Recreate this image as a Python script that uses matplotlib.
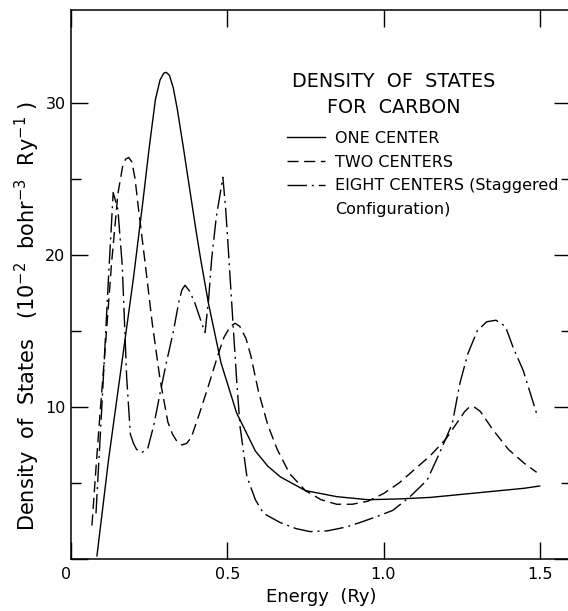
import matplotlib
matplotlib.use("Agg")
import matplotlib.pyplot as plt
from matplotlib.lines import Line2D

plt.rcParams['font.family'] = ['DejaVu Sans']
plt.rcParams['mathtext.fontset'] = 'dejavusans'

# ONE CENTER (solid)
one_x = [0.083, 0.12, 0.16, 0.20, 0.23, 0.25, 0.27, 0.285, 0.297, 0.305, 0.315, 0.327,
         0.34, 0.36, 0.38, 0.40, 0.415, 0.44, 0.48, 0.53, 0.59, 0.63, 0.67, 0.75, 0.85,
         0.95, 1.05, 1.15, 1.25, 1.35, 1.45, 1.50]
one_y = [0.2, 6.5, 12.5, 18.5, 23.5, 27.0, 30.2, 31.5, 31.95, 32.0, 31.8, 31.0,
         29.6, 27.0, 24.3, 21.6, 19.7, 16.8, 12.9, 9.6, 7.1, 6.1, 5.4, 4.5, 4.1,
         3.9, 3.95, 4.05, 4.25, 4.45, 4.65, 4.8]

# TWO CENTERS (dashed)
two_x = [0.067, 0.08, 0.093, 0.11, 0.13, 0.15, 0.165, 0.175, 0.185, 0.195, 0.205, 0.215,
         0.237, 0.26, 0.285, 0.31, 0.325, 0.34, 0.355, 0.37, 0.385, 0.41, 0.44, 0.47,
         0.49, 0.51, 0.525, 0.54, 0.56, 0.575, 0.60, 0.63, 0.66, 0.70, 0.75, 0.80, 0.85,
         0.90, 0.95, 1.00, 1.05, 1.10, 1.15, 1.20, 1.24, 1.26, 1.275, 1.29, 1.31, 1.35,
         1.40, 1.45, 1.49]
two_y = [2.2, 6.0, 9.6, 14.0, 19.5, 24.0, 25.8, 26.3, 26.4, 26.1, 25.0, 23.2,
         19.5, 15.5, 11.8, 9.0, 8.2, 7.7, 7.5, 7.6, 8.0, 9.5, 11.4, 13.4,
         14.6, 15.3, 15.5, 15.3, 14.5, 13.4, 11.0, 8.8, 7.2, 5.6, 4.5, 3.9, 3.6,
         3.6, 3.8, 4.3, 5.0, 5.9, 6.8, 7.9, 9.1, 9.7, 10.0, 10.0, 9.7, 8.5,
         7.2, 6.3, 5.7]

# EIGHT CENTERS (dash-dot)
eight_x = [0.08, 0.10, 0.12, 0.135, 0.15, 0.164, 0.178, 0.19, 0.20, 0.21, 0.227, 0.246,
           0.265, 0.285, 0.305, 0.327, 0.345, 0.355, 0.365, 0.38, 0.397, 0.415, 0.429,
           0.44, 0.45, 0.465, 0.486, 0.495, 0.503, 0.519, 0.53, 0.541, 0.563, 0.59,
           0.616, 0.669, 0.72, 0.765, 0.82, 0.88, 0.925, 0.98, 1.03, 1.085, 1.14, 1.18,
           1.22, 1.245, 1.27, 1.30, 1.33, 1.36, 1.39, 1.415, 1.447, 1.494]
eight_y = [3.0, 10.5, 18.5, 24.1, 23.0, 19.3, 12.0, 8.2, 7.6, 7.2, 7.0, 7.3,
           8.8, 10.9, 12.9, 14.9, 16.9, 17.7, 18.0, 17.6, 16.8, 15.7, 14.9,
           17.0, 19.7, 22.5, 25.1, 23.0, 20.5, 15.3, 11.8, 8.7, 5.4, 3.9,
           3.0, 2.4, 2.0, 1.8, 1.85, 2.1, 2.4, 2.8, 3.2, 4.1, 5.2, 7.0,
           8.9, 11.6, 13.5, 15.0, 15.6, 15.7, 15.3, 13.9, 12.4, 9.3]

labels = ["ONE CENTER", "TWO CENTERS", "EIGHT CENTERS (Staggered", "Configuration)"]
x_ticks = [0, 0.5, 1.0, 1.5]
x_tick_labels = ["0", "0.5", "1.0", "1.5"]
y_ticks = [0, 10, 20, 30]
y_tick_labels = ["", "10", "20", "30"]
y_minor_ticks = [5, 15, 25]

W, H = 568, 611
fig = plt.figure(figsize=(W / 100, H / 100), dpi=100)
ax = fig.add_axes([71 / W, (H - 559) / H, 500 / W, 549 / H])

lw = 1.0
ax.plot(one_x, one_y, color='black', lw=lw, label=labels[0])
ax.plot(two_x, two_y, color='black', lw=lw, dashes=(8, 4), label=labels[1])
ax.plot(eight_x, eight_y, color='black', lw=lw, dashes=(14, 3.5, 1.5, 3.5), label=labels[2])

ax.set_xlim(0, 1.6)
ax.set_ylim(0, 36.1)

ax.set_xticks(x_ticks)
ax.set_xticklabels(x_tick_labels, fontsize=11.5)
ax.get_xticklabels()[0].set_ha('right')
ax.set_yticks(y_ticks)
ax.set_yticklabels(y_tick_labels, fontsize=11.5)
ax.set_yticks(y_minor_ticks, minor=True)
ax.tick_params(axis='both', which='major', direction='in', length=12, width=1.0,
               top=True, right=True)
ax.tick_params(axis='x', which='major', pad=6)
ax.tick_params(axis='y', which='major', pad=4)
ax.tick_params(axis='y', which='minor', direction='in', length=7, width=1.0, right=True)
for s in ax.spines.values():
    s.set_linewidth(1.1)

ax.set_xlabel("Energy  (Ry)", fontsize=13, labelpad=4)
fig.text(27 / W, (H - 316) / H,
         "Density  of  States   (10$^{-2}$  bohr$^{-3}$  Ry$^{-1}$ )",
         rotation=90, ha='center', va='center', fontsize=15)

# title of the key
ax.text(0.646, 0.869, "DENSITY  OF  STATES", transform=ax.transAxes,
        ha='center', va='center', fontsize=13.8)
ax.text(0.646, 0.823, "FOR  CARBON", transform=ax.transAxes,
        ha='center', va='center', fontsize=13.8)

handles, labs = ax.get_legend_handles_labels()
handles.append(Line2D([], [], linestyle='none'))
labs.append(labels[3])
ax.legend(handles, labs, loc='upper left', bbox_to_anchor=(0.432, 0.780),
          frameon=False, fontsize=11.5, handlelength=2.4, handletextpad=0.6,
          labelspacing=0.55, borderpad=0, borderaxespad=0)

fig.savefig("out.png", dpi=100)
